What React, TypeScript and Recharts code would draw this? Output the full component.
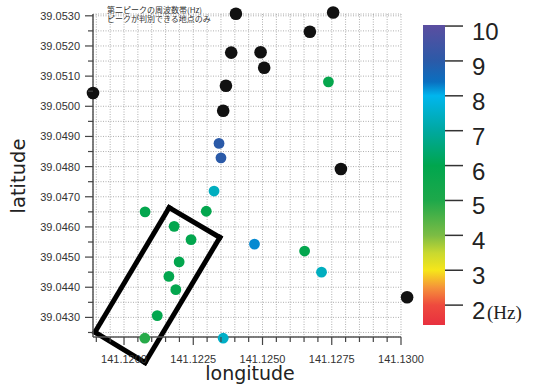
import React from 'react';
import {
  ScatterChart,
  XAxis,
  YAxis,
  CartesianGrid,
  ReferenceDot,
  ReferenceLine,
  Customized,
} from 'recharts';

// ---- data ----
// points without a detectable second peak (drawn black)
const blackLon = [141.11888, 141.12404, 141.12755, 141.12671, 141.12387, 141.12493, 141.12506, 141.12368, 141.12358, 141.12783, 141.13022];
const blackLat = [39.05044, 39.05307, 39.05311, 39.05247, 39.05178, 39.05179, 39.05128, 39.05068, 39.04985, 39.04792, 39.04367];

// points with second peak frequency (Hz)
const peakLon = [141.12738, 141.12343, 141.1235, 141.12325, 141.12297, 141.12471, 141.12652, 141.12713, 141.12358, 141.12076, 141.12181, 141.12242, 141.12199, 141.12162, 141.12187, 141.1212, 141.12075];
const peakLat = [39.05081, 39.04877, 39.04829, 39.04719, 39.04652, 39.04543, 39.0452, 39.0445, 39.04231, 39.0465, 39.04602, 39.04558, 39.04484, 39.04436, 39.04392, 39.04306, 39.04231];
const peakHz = [5.8, 9.0, 9.0, 7.4, 5.9, 8.25, 5.9, 7.4, 7.5, 5.9, 5.9, 5.9, 5.9, 5.9, 5.9, 5.9, 4.9];

// highlighted area (rectangle corners)
const boxLon = [141.12163, 141.12346, 141.12076, 141.11895];
const boxLat = [39.04664, 39.04565, 39.0415, 39.04251];

// axis ticks
const xTicks = [141.119, 141.1195, 141.12, 141.1205, 141.121, 141.1215, 141.122, 141.1225, 141.123, 141.1235, 141.124, 141.1245, 141.125, 141.1255, 141.126, 141.1265, 141.127, 141.1275, 141.128, 141.1285, 141.129, 141.1295, 141.13];
const xLabelTicks = [141.12, 141.1225, 141.125, 141.1275, 141.13];
const yTicks = [39.0425, 39.043, 39.0435, 39.044, 39.0445, 39.045, 39.0455, 39.046, 39.0465, 39.047, 39.0475, 39.048, 39.0485, 39.049, 39.0495, 39.05, 39.0505, 39.051, 39.0515, 39.052, 39.0525, 39.053];
const yLabelTicks = [39.043, 39.044, 39.045, 39.046, 39.047, 39.048, 39.049, 39.05, 39.051, 39.052, 39.053];
const colorbarTicks = [2, 3, 4, 5, 6, 7, 8, 9, 10];
const colorbarRange = [1.43, 10.03];

// colour scale stops
const stopValues = [1.43, 2, 2.5, 3, 3.5, 4, 5, 6, 7, 8, 8.4, 9, 10.03];
const stopColors = ['#e8303f', '#ee4a3e', '#f5923a', '#f6e61a', '#c8d830', '#7cbc44', '#1ea84a', '#00a64e', '#00a8a0', '#00b6ee', '#0a6fc0', '#2b5aa8', '#5b4ea0'];

const toRgb = (c: string) => [1, 3, 5].map((i) => parseInt(c.slice(i, i + 2), 16));
const freqColor = (v: number) => {
  if (v <= stopValues[0]) return stopColors[0];
  for (let i = 1; i < stopValues.length; i++) {
    if (v <= stopValues[i]) {
      const t = (v - stopValues[i - 1]) / (stopValues[i] - stopValues[i - 1]);
      const a = toRgb(stopColors[i - 1]);
      const b = toRgb(stopColors[i]);
      const m = a.map((x, k) => Math.round(x + (b[k] - x) * t));
      return `rgb(${m[0]},${m[1]},${m[2]})`;
    }
  }
  return stopColors[stopColors.length - 1];
};

const isIn = (v: number, arr: number[]) => arr.some((a) => Math.abs(a - v) < 1e-7);

const FONT = '"Liberation Sans", Arial, sans-serif';

const YTick = (props: any) => {
  const { x, y, payload } = props;
  const v = payload.value as number;
  const major = isIn(v, yLabelTicks);
  const ax = x + 13;
  return (
    <g>
      <line x1={ax - (major ? 8 : 5)} x2={ax} y1={y} y2={y} stroke="#444" strokeWidth={1.2} />
      {major && (
        <text x={x} y={y} textAnchor="end" dominantBaseline="central" fontSize={11} fontFamily={FONT} fill="#333">
          {v.toFixed(4)}
        </text>
      )}
    </g>
  );
};

const XTick = (props: any) => {
  const { x, y, payload } = props;
  const v = payload.value as number;
  const major = isIn(v, xLabelTicks);
  const ay = y - 18;
  return (
    <g>
      <line x1={x} x2={x} y1={ay} y2={ay + (major ? 8 : 5)} stroke="#444" strokeWidth={1.2} />
      {major && (
        <text x={x} y={y} dy="0.71em" textAnchor="middle" fontSize={11} fontFamily={FONT} fill="#333">
          {v.toFixed(4)}
        </text>
      )}
    </g>
  );
};

const Overlay = () => {
  const barX = 423;
  const barW = 22;
  const barTop = 25;
  const barH = 300;
  const yOf = (v: number) => barTop + ((colorbarRange[1] - v) / (colorbarRange[1] - colorbarRange[0])) * barH;
  const span = colorbarRange[1] - colorbarRange[0];
  return (
    <g>
      <defs>
        <linearGradient id="cbar" x1="0" y1="1" x2="0" y2="0">
          {stopValues.map((s, i) => (
            <stop key={i} offset={`${((s - colorbarRange[0]) / span) * 100}%`} stopColor={stopColors[i]} />
          ))}
        </linearGradient>
      </defs>
      <rect x={barX} y={barTop} width={barW} height={barH} fill="url(#cbar)" />
      {colorbarTicks.map((t) => (
        <g key={t}>
          <line x1={barX + barW} x2={barX + barW + 18} y1={yOf(t)} y2={yOf(t)} stroke="#333" strokeWidth={1.5} />
          <text x={472} y={yOf(t) + 5.5} dominantBaseline="central" fontSize={24} fontFamily={FONT} fill="#222">
            {t}
          </text>
        </g>
      ))}
      <text x={487} y={yOf(2) + 7} dominantBaseline="central" fontSize={19} fontFamily='"Liberation Serif", serif' fill="#222">
        (Hz)
      </text>
      <text x={107} y={9.5} dominantBaseline="central" fontSize={8} fontFamily='"Noto Sans CJK JP", sans-serif' fill="#333">
        第二ピークの周波数帯(Hz)
      </text>
      <text x={107} y={18.7} dominantBaseline="central" fontSize={8} fontFamily='"Noto Sans CJK JP", sans-serif' fill="#333">
        ピークが判別できる地点のみ
      </text>
      <text x={250} y={380} textAnchor="middle" fontSize={19} fontFamily='"DejaVu Sans", sans-serif' fill="#222">
        longitude
      </text>
      <text
        x={18}
        y={176}
        textAnchor="middle"
        dominantBaseline="central"
        fontSize={19.5}
        fontFamily='"DejaVu Sans", sans-serif'
        fill="#222"
        transform="rotate(-90 18 176)"
      >
        latitude
      </text>
    </g>
  );
};

export default function App() {
  const boxSegs = boxLon.map((lon, i) => {
    const j = (i + 1) % boxLon.length;
    return [
      { x: lon, y: boxLat[i] },
      { x: boxLon[j], y: boxLat[j] },
    ];
  });
  return (
    <div style={{ position: 'absolute', left: 0, top: 0, background: '#fff' }}>
      <ScatterChart width={534} height={385} margin={{ top: 14, right: 133, bottom: 0, left: 0 }}>
        <CartesianGrid stroke="#9a9a9a" strokeDasharray="1 1.5" strokeWidth={0.8} />
        <XAxis
          type="number"
          dataKey="x"
          domain={[141.11888, 141.13]}
          allowDataOverflow
          ticks={xTicks}
          interval={0}
          height={48}
          tickSize={8}
          tickMargin={10}
          tickLine={{ stroke: 'none' }}
          axisLine={{ stroke: '#555', strokeWidth: 1.5 }}
          tick={<XTick />}
        />
        <YAxis
          type="number"
          dataKey="y"
          domain={[39.04235, 39.05306]}
          allowDataOverflow
          ticks={yTicks}
          interval={0}
          width={93}
          tickSize={8}
          tickMargin={5}
          tickLine={{ stroke: 'none' }}
          axisLine={{ stroke: '#555', strokeWidth: 1.5 }}
          tick={<YTick />}
        />
        {blackLon.map((lon, i) => (
          <ReferenceDot key={`b${i}`} x={lon} y={blackLat[i]} r={6.3} fill="#111" stroke="none" ifOverflow="visible" />
        ))}
        {peakLon.map((lon, i) => (
          <ReferenceDot key={`p${i}`} x={lon} y={peakLat[i]} r={5.4} fill={freqColor(peakHz[i])} stroke="none" ifOverflow="visible" />
        ))}
        {boxSegs.map((seg, i) => (
          <ReferenceLine
            key={`s${i}`}
            segment={seg}
            stroke="#000"
            strokeWidth={5}
            strokeLinecap="square"
            ifOverflow="visible"
          />
        ))}
        <Customized component={<Overlay />} />
      </ScatterChart>
    </div>
  );
}
